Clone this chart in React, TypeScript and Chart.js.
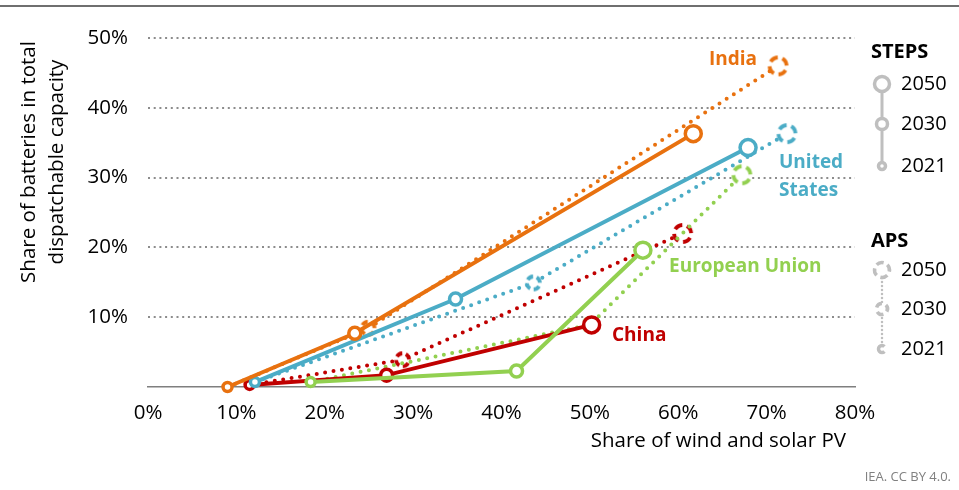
import React, { useEffect, useRef } from "react";
import { Chart, registerables } from "chart.js";

Chart.register(...registerables);

const years = ["2021", "2030", "2050"];
const xTicks = [0, 10, 20, 30, 40, 50, 60, 70, 80];
const yTicks = [0, 10, 20, 30, 40, 50];

const indiaStepsX = [9, 23.4, 61.7];
const indiaStepsY = [0, 7.7, 36.3];
const indiaApsX = [9, 24.9, 71.3];
const indiaApsY = [0, 8.4, 46];

const usStepsX = [12.1, 34.8, 67.9];
const usStepsY = [0.7, 12.6, 34.3];
const usApsX = [12.1, 43.6, 72.3];
const usApsY = [0.7, 14.9, 36.3];

const euStepsX = [18.4, 41.7, 56];
const euStepsY = [0.7, 2.3, 19.6];
const euApsX = [18.4, 50, 67.2];
const euApsY = [0.7, 8.9, 30.4];

const chinaStepsX = [11.5, 27, 50.2];
const chinaStepsY = [0.3, 1.7, 8.9];
const chinaApsX = [11.5, 28.8, 60.5];
const chinaApsY = [0.3, 3.9, 22];

const ORANGE = "#E8710F";
const BLUE = "#4BACC6";
const GREEN = "#92D050";
const RED = "#C00000";
const LEG = "#BFBFBF";
const FONT = "'Open Sans', 'Noto Sans', sans-serif";
const AX = 20.5;

const RADII = [4.5, 6, 8];

// ring drawn as n separate arc segments (dashed look)
function drawDashedRing(
  ctx: CanvasRenderingContext2D,
  cx: number,
  cy: number,
  color: string,
  r: number,
  lw: number,
  n: number,
  fill: number,
  start: number
) {
  ctx.save();
  ctx.setLineDash([]);
  ctx.beginPath();
  ctx.arc(cx, cy, r, 0, Math.PI * 2);
  ctx.fillStyle = "#fff";
  ctx.fill();
  ctx.strokeStyle = color;
  ctx.lineWidth = lw;
  ctx.lineCap = "butt";
  const step = (Math.PI * 2) / n;
  for (let k = 0; k < n; k++) {
    const a0 = start + k * step;
    ctx.beginPath();
    ctx.arc(cx, cy, r, a0, a0 + step * fill);
    ctx.stroke();
  }
  ctx.restore();
}

function dashedRing(color: string, r: number, lw: number, n: number, fill: number, start = -Math.PI / 3) {
  const size = Math.ceil(2 * r + lw + 4);
  const c = document.createElement("canvas");
  c.width = size;
  c.height = size;
  const ctx = c.getContext("2d")!;
  drawDashedRing(ctx, size / 2, size / 2, color, r, lw, n, fill, start);
  return c;
}

function pts(xs: number[], ys: number[]) {
  return xs.map((x, i) => ({ x, y: ys[i] }));
}

function stepsDs(label: string, color: string, xs: number[], ys: number[]) {
  return {
    label: label + " STEPS",
    data: pts(xs, ys),
    borderColor: color,
    backgroundColor: "#fff",
    borderWidth: 4,
    pointRadius: RADII,
    pointBorderWidth: 3.5,
    pointBorderColor: color,
    pointBackgroundColor: "#fff",
    pointStyle: "circle",
    tension: 0,
    clip: false as any,
    order: 0,
  };
}

function apsDs(label: string, color: string, xs: number[], ys: number[]) {
  const r30 = dashedRing(color, 6.5, 3.8, 4, 0.64, -Math.PI / 3);
  const r50 = dashedRing(color, 8.5, 3.8, 4, 0.64, -Math.PI / 3);
  return {
    label: label + " APS",
    data: pts(xs, ys),
    borderColor: color,
    borderWidth: 4,
    borderDash: [0, 8.5],
    borderCapStyle: "round" as const,
    pointRadius: [0, 6, 8],
    pointStyle: ["circle", r30, r50] as any,
    tension: 0,
    clip: false as any,
    order: 1,
  };
}

const annotPlugin = {
  id: "annot",
  afterDraw(chart: any) {
    const ctx = chart.ctx as CanvasRenderingContext2D;
    ctx.save();
    // top rule
    ctx.strokeStyle = "#6f6f6f";
    ctx.lineWidth = 2;
    ctx.beginPath();
    ctx.moveTo(0, 6);
    ctx.lineTo(959, 6);
    ctx.stroke();

    // y title
    ctx.fillStyle = "#000";
    ctx.font = `${AX}px ${FONT}`;
    ctx.textAlign = "center";
    ctx.textBaseline = "middle";
    ctx.save();
    ctx.translate(29, 162);
    ctx.rotate(-Math.PI / 2);
    ctx.fillText("Share of batteries in total", 0, 0);
    ctx.restore();
    ctx.save();
    ctx.translate(57, 162);
    ctx.rotate(-Math.PI / 2);
    ctx.fillText("dispatchable capacity", 0, 0);
    ctx.restore();

    // x title
    ctx.textAlign = "right";
    ctx.fillText("Share of wind and solar PV", 846, 441);

    // source
    ctx.fillStyle = "#808080";
    ctx.font = `13px ${FONT}`;
    ctx.fillText("IEA. CC BY 4.0.", 951, 477);

    // series labels
    ctx.textAlign = "left";
    ctx.font = `bold 19px ${FONT}`;
    ctx.fillStyle = ORANGE;
    ctx.fillText("India", 709, 60);
    ctx.fillStyle = BLUE;
    ctx.fillText("United", 779, 163);
    ctx.fillText("States", 779, 191);
    ctx.fillStyle = GREEN;
    ctx.fillText("European Union", 669, 267);
    ctx.fillStyle = RED;
    ctx.fillText("China", 612, 336);

    // legend
    ctx.fillStyle = "#000";
    ctx.font = `bold 20px ${FONT}`;
    ctx.fillText("STEPS", 871, 52);
    ctx.fillText("APS", 871, 241);
    ctx.font = `20px ${FONT}`;
    const lx = 882;
    const stepY = [166, 124, 84];
    const apsY = [349, 309, 270];
    years.forEach((yr, i) => {
      ctx.fillText(yr, 901, stepY[i]);
      ctx.fillText(yr, 901, apsY[i]);
    });
    // steps legend
    ctx.strokeStyle = LEG;
    ctx.lineWidth = 3;
    ctx.setLineDash([]);
    ctx.beginPath();
    ctx.moveTo(lx, stepY[2]);
    ctx.lineTo(lx, stepY[0]);
    ctx.stroke();
    const lr = [3.5, 5.5, 7.5];
    stepY.forEach((y, i) => {
      ctx.beginPath();
      ctx.arc(lx, y, lr[i], 0, Math.PI * 2);
      ctx.fillStyle = "#fff";
      ctx.fill();
      ctx.lineWidth = 3.5;
      ctx.stroke();
    });
    // aps legend
    ctx.strokeStyle = LEG;
    ctx.lineWidth = 2.5;
    ctx.setLineDash([0, 4]);
    ctx.lineCap = "round";
    ctx.beginPath();
    ctx.moveTo(lx, apsY[2]);
    ctx.lineTo(lx, apsY[0]);
    ctx.stroke();
    ctx.setLineDash([]);
    ctx.lineCap = "butt";
    const segs = [1, 3, 4];
    const fills = [0.75, 0.62, 0.64];
    apsY.forEach((y, i) => {
      drawDashedRing(ctx, lx, y, LEG, lr[i], 3.5, segs[i], fills[i], i === 0 ? Math.PI / 4 : -Math.PI / 4);
    });
    ctx.restore();
  },
};

export default function App() {
  const ref = useRef<HTMLCanvasElement>(null);
  useEffect(() => {
    if (!ref.current) return;
    const chart = new Chart(ref.current, {
      type: "line",
      data: {
        datasets: [
          stepsDs("India", ORANGE, indiaStepsX, indiaStepsY),
          stepsDs("United States", BLUE, usStepsX, usStepsY),
          stepsDs("European Union", GREEN, euStepsX, euStepsY),
          stepsDs("China", RED, chinaStepsX, chinaStepsY),
          apsDs("India", ORANGE, indiaApsX, indiaApsY),
          apsDs("United States", BLUE, usApsX, usApsY),
          apsDs("European Union", GREEN, euApsX, euApsY),
          apsDs("China", RED, chinaApsX, chinaApsY),
        ] as any,
      },
      options: {
        responsive: false,
        animation: false,
        devicePixelRatio: 1,
        layout: { padding: { top: 38, right: 104, left: 0, bottom: 0 } },
        plugins: { legend: { display: false }, tooltip: { enabled: false } },
        scales: {
          x: {
            type: "linear",
            min: xTicks[0],
            max: xTicks[xTicks.length - 1],
            afterBuildTicks: (s: any) => {
              s.ticks = xTicks.map((v) => ({ value: v }));
            },
            afterFit: (s: any) => {
              s.height = 103;
            },
            grid: { display: false, drawTicks: false },
            border: { display: true, color: "#7f7f7f", width: 1.5 },
            ticks: {
              padding: 14,
              color: "#000",
              font: { family: FONT, size: AX },
              callback: (v: any) => v + "%",
              maxRotation: 0,
            },
          },
          y: {
            type: "linear",
            min: yTicks[0],
            max: yTicks[yTicks.length - 1],
            afterBuildTicks: (s: any) => {
              s.ticks = yTicks.map((v) => ({ value: v }));
            },
            afterFit: (s: any) => {
              s.width = 148;
            },
            grid: {
              drawTicks: false,
              color: (c: any) => (c.tick && c.tick.value === 0 ? "rgba(0,0,0,0)" : "#8c8c8c"),
              lineWidth: 2,
            },
            border: { display: false, dash: [2, 3.7] },
            ticks: {
              padding: 20,
              color: "#000",
              font: { family: FONT, size: AX },
              callback: (v: any) => (v === 0 ? "" : v + "%"),
            },
          },
        },
      },
      plugins: [annotPlugin],
    });
    return () => chart.destroy();
  }, []);
  return (
    <div style={{ position: "fixed", left: 0, top: 0, width: 959, height: 490, background: "#fff" }}>
      <canvas ref={ref} width={959} height={490} style={{ display: "block" }} />
    </div>
  );
}
